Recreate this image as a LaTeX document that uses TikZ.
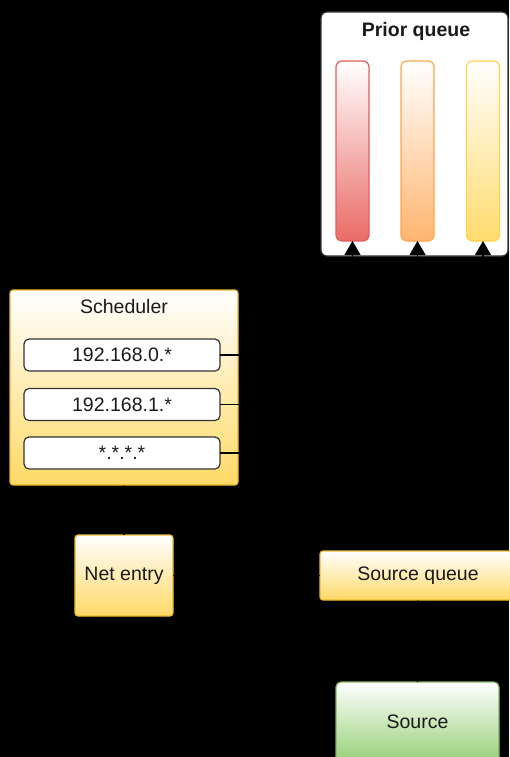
\documentclass[tikz,border=0pt]{standalone}
\usepackage{fontspec}
\setmainfont{Liberation Sans}
\usetikzlibrary{arrows.meta}
\definecolor{inkcolor}{HTML}{1A1A1A}
\definecolor{edgecolor}{HTML}{333333}
\definecolor{goldline}{HTML}{EDB92E}
\definecolor{goldfill}{HTML}{FFD966}
\definecolor{redline}{HTML}{E35D5D}
\definecolor{redfill}{HTML}{EA6B66}
\definecolor{orangeline}{HTML}{FFA54D}
\definecolor{orangefill}{HTML}{FFB570}
\definecolor{yellowline}{HTML}{FFD24D}
\definecolor{yellowfill}{HTML}{FFDC6E}
\definecolor{greenline}{HTML}{82B366}
\definecolor{greenfill}{HTML}{97D077}

\tikzset{
  base/.style={rectangle, inner sep=0pt, outer sep=0pt, line width=1.2pt,
    font=\fontsize{19.5}{22}\selectfont, text=inkcolor},
  goldbox/.style={base, draw=goldline, top color=white, bottom color=goldfill, rounded corners=3pt},
  entrybox/.style={base, draw=edgecolor, fill=white, rounded corners=5pt,
    minimum width=196pt, minimum height=32pt},
  barbox/.style={base, minimum width=33pt, minimum height=180pt, rounded corners=6pt, top color=white},
  link/.style={draw=black, line width=1.2pt, -{Triangle[width=16pt, length=14pt]}}
}

\begin{document}
\begin{tikzpicture}[x=1pt, y=-1pt]
        \useasboundingbox[fill=black] (0, 0) rectangle (509, 757);

        % Prior queue
        \node[base, draw=edgecolor, fill=white, rounded corners=6pt,
              minimum width=187pt, minimum height=244pt] (prior) at (414.5, 134) {};
        \node[base, font=\fontsize{19.5}{22}\selectfont\bfseries] (priortitle) at (416, 31) {Prior queue};
        \node[barbox, draw=redline, bottom color=redfill] (barred) at (352.5, 151) {};
        \node[barbox, draw=orangeline, bottom color=orangefill] (barorange) at (417.5, 151) {};
        \node[barbox, draw=yellowline, bottom color=yellowfill] (baryellow) at (483, 151) {};

        % Scheduler
        \node[goldbox, minimum width=228pt, minimum height=195pt] (sched) at (124, 387.5) {};
        \node[base] (schedtitle) at (124, 307) {Scheduler};
        \node[entrybox] (net0) at (122, 355) {192.168.0.*};
        \node[entrybox] (net1) at (122, 404.5) {192.168.1.*};
        \node[entrybox] (netany) at (122, 453) {*.*.*.*};

        % Entry and sources
        \node[goldbox, minimum width=98pt, minimum height=81pt] (netentry) at (124, 575.5) {Net entry};
        \node[goldbox, minimum width=196pt, minimum height=49pt] (srcqueue) at (418, 575.5) {Source queue};
        \node[base, draw=greenline, top color=white, bottom color=greenfill, rounded corners=5pt,
              minimum width=163pt, minimum height=80pt] (source) at (417.5, 722) {Source};

        % Links
        \draw[link] (net0.east) -| (barred.south);
        \draw[link] (net1.east) -| (barorange.south);
        \draw[link] (netany.east) -| (baryellow.south);
        \draw[link] (netentry.north) -- (sched.south);
        \draw[link] (srcqueue.west) -- (netentry.east);
        \draw[link] (source.north) -- (srcqueue.south);
\end{tikzpicture}
\end{document}
